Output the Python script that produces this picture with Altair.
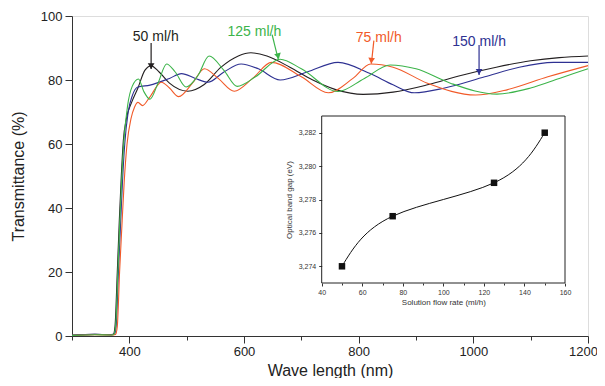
import altair as alt
import pandas as pd

# ---------------- main spectra ----------------
names = ["50 ml/h", "150 ml/h", "75 ml/h", "125 ml/h"]
colors = ["#231f20", "#2e3192", "#f15a29", "#3cb44a"]

black_wl = [300, 340, 365, 372, 375, 379, 382.5, 386, 389.5, 395, 404, 415, 427, 438, 452, 470, 502, 530, 560,
            590, 612, 640, 680, 720, 760, 808, 860, 920, 980, 1040, 1100, 1150, 1200]
black_t = [0.2, 0.5, 0.4, 0.5, 3, 20, 36, 50, 61, 68, 73, 77.5, 83, 84.4, 82.5, 79, 76.5, 78.5, 84,
           87.5, 88.5, 87.5, 84, 80, 77, 75.5, 76.2, 78.5, 81.5, 84, 86, 87, 87.5]

blue_wl = [300, 340, 366, 374, 377, 381, 385, 388, 392, 398, 405, 415, 436, 470, 491, 515, 537, 565, 595, 625,
           663, 710, 764, 820, 860, 897, 950, 1020, 1080, 1140, 1200]
blue_t = [0.3, 0.5, 0.4, 0.5, 3, 20, 36, 48, 60, 70, 75, 77.8, 78.4, 80.5, 82, 80.5, 79.3, 82.5, 85, 83.5,
          80, 82.5, 85.5, 82, 78.5, 76, 77.5, 81, 84, 85.5, 85.5]

orange_wl = [300, 340, 368, 376, 379, 383, 387.5, 391, 396, 403, 409, 415, 423, 435, 456, 470, 486, 510, 531,
             555, 583, 615, 648, 700, 747, 790, 821, 860, 920, 1004, 1060, 1130, 1200]
orange_t = [0.2, 0.4, 0.3, 0.5, 3, 20, 36, 48, 60, 68, 71.5, 73, 72, 74.5, 79.3, 77.5, 74.8, 79, 83.5,
            80.5, 76.5, 80.5, 85.5, 81, 76, 80.5, 85, 84, 79, 75.3, 77, 81, 84.5]

green_wl = [300, 340, 366, 373, 376, 380, 383.5, 387, 391, 397, 405, 416, 425, 436, 450, 465, 480, 499, 520,
            539, 565, 588, 620, 663, 700, 764, 810, 855, 900, 960, 1041, 1100, 1150, 1200]
green_t = [0.2, 0.4, 0.3, 0.5, 3, 20, 36, 50, 62, 72, 78, 80.3, 76.5, 74, 79, 85, 82.5, 77.8, 81.5,
           87.5, 83, 78, 81, 86.5, 83.5, 76.4, 80.5, 84.7, 83.5, 79, 75.6, 77.5, 80.5, 83.5]

series = [(names[0], black_wl, black_t), (names[1], blue_wl, blue_t),
          (names[2], orange_wl, orange_t), (names[3], green_wl, green_t)]
rows = []
for i, (nm, wl, tt) in enumerate(series):
    for w, v in zip(wl, tt):
        rows.append({"series": nm, "wl": w, "T": v, "ord": i})
spec_df = pd.DataFrame(rows)

# ---------------- annotations ----------------
ann_label = ["50 ml/h", "125 ml/h", "75 ml/h", "150 ml/h"]
ann_color = ["#231f20", "#3cb44a", "#f15a29", "#2e3192"]
ann_tx = [446, 618, 835, 1010]
ann_ty = [93.4, 95.1, 93.2, 91.9]
arr_x1 = [438, 649, 826.5, 1010]
arr_y1 = [91.6, 94.2, 92.3, 90.9]
arr_x2 = [438, 659.6, 822.2, 1010]
arr_y2 = [83.4, 86.5, 85.1, 81.6]
arr_ang = [0, 346, 6, 0]
ann_df = pd.DataFrame({"label": ann_label, "color": ann_color, "tx": ann_tx, "ty": ann_ty,
                       "x1": arr_x1, "y1": arr_y1, "x2": arr_x2, "y2": arr_y2, "ang": arr_ang})

# ---------------- inset data ----------------
flow = [50, 75, 125, 150]
gap = [3.274, 3.277, 3.279, 3.282]
inset_df = pd.DataFrame({"flow": flow, "gap": gap})
ix_dom = [40, 160]
iy_dom = [3.273, 3.283]
iy_ticks = [3.274, 3.276, 3.278, 3.280, 3.282]
frame_df = pd.DataFrame({"fx": [ix_dom[0]], "fx2": [ix_dom[1]], "fy": [iy_dom[0]], "fy2": [iy_dom[1]]})

FONT = "Liberation Sans"
XT = "Wave length (nm)"
YT = "Transmittance (%)"

xscale = alt.Scale(domain=[300, 1200], nice=False, zero=False)
yscale = alt.Scale(domain=[0, 100], nice=False, zero=False)

x_axis = alt.Axis(
    values=list(range(300, 1201, 100)),
    labelExpr="datum.value % 200 == 0 && datum.value > 300 ? format(datum.value, 'd') : ''",
    tickSize={"condition": {"test": "datum.value % 200 == 0", "value": 7}, "value": 4},
    labelOffset={"condition": {"test": "datum.value == 1200", "value": -5}, "value": 0},
    labelFontSize=13, labelFont=FONT, labelColor="#222", labelPadding=2, labelOverlap=False,
    titleFontSize=16, titleFont=FONT, titleFontWeight="normal", titleColor="#222", titlePadding=4,
    domainColor="#333", tickColor="#333", grid=False, orient="bottom", labelFlush=False,
)
y_axis = alt.Axis(
    values=list(range(0, 101, 5)),
    labelExpr="datum.value % 10 == 0 ? datum.label : ''",
    tickSize={"condition": {"test": "datum.value % 10 == 0", "value": 7}, "value": 4},
    labelFontSize=13, labelFont=FONT, labelColor="#222", labelPadding=3, labelOverlap=False,
    titleFontSize=16, titleFont=FONT, titleFontWeight="normal", titleColor="#222", titlePadding=14,
    domainColor="#333", tickColor="#333", grid=False, orient="left", labelFlush=False,
)

lines = alt.Chart(spec_df).mark_line(strokeWidth=1.1, interpolate="monotone").encode(
    x=alt.X("wl:Q", scale=xscale, axis=x_axis, title=XT),
    y=alt.Y("T:Q", scale=yscale, axis=y_axis, title=YT),
    color=alt.Color("series:N", scale=alt.Scale(domain=names, range=colors), legend=None),
    order=alt.Order("ord:Q"),
)

texts = alt.Chart(ann_df).mark_text(fontSize=14, font=FONT).encode(
    x=alt.X("tx:Q", title=XT), y=alt.Y("ty:Q", title=YT),
    text="label:N", color=alt.Color("color:N", scale=None),
)
rules = alt.Chart(ann_df).mark_rule(strokeWidth=1.2).encode(
    x=alt.X("x1:Q", title=XT), y=alt.Y("y1:Q", title=YT), x2="x2:Q", y2="y2:Q",
    color=alt.Color("color:N", scale=None),
)
heads = alt.Chart(ann_df).mark_point(shape="triangle-down", filled=True, size=45, opacity=1, yOffset=-3).encode(
    x=alt.X("x2:Q", title=XT), y=alt.Y("y2:Q", title=YT),
    angle=alt.Angle("ang:Q", scale=None),
    color=alt.Color("color:N", scale=None),
)

main = alt.layer(lines, rules, heads, texts)

# ---------------- inset ----------------
IXT = "Solution flow rate (ml/h)"
IYT = "Optical band gap (eV)"
ixscale = alt.Scale(domain=ix_dom, range=[249.7, 493], nice=False, zero=False)
iyscale = alt.Scale(domain=iy_dom, range=[267, 100], nice=False, zero=False)

ix_axis = alt.Axis(
    orient="bottom", offset=-53, values=list(range(40, 161, 10)),
    labelExpr="datum.value % 20 == 0 ? datum.label : ''",
    tickSize={"condition": {"test": "datum.value % 20 == 0", "value": 3}, "value": 2},
    labelFontSize=7, labelFont=FONT, labelColor="#333", labelPadding=2, labelOverlap=False,
    titleFontSize=8, titleFont=FONT, titleFontWeight="normal", titleColor="#333", titlePadding=3,
    domain=False, tickColor="#333", grid=False, labelFlush=False,
)
iy_axis = alt.Axis(
    orient="left", offset=-249.7, values=iy_ticks, format=".3f",
    labelExpr="'3,' + slice(datum.label, 2)",
    tickSize=3,
    labelFontSize=7, labelFont=FONT, labelColor="#333", labelPadding=3, labelOverlap=False,
    titleFontSize=8, titleFont=FONT, titleFontWeight="normal", titleColor="#333", titlePadding=5,
    domain=False, tickColor="#333", grid=False, labelFlush=False,
)

frame = alt.Chart(frame_df).mark_rect(fillOpacity=0, stroke="#222", strokeWidth=1).encode(
    x=alt.X("fx:Q", scale=ixscale, axis=ix_axis, title=IXT), x2="fx2:Q",
    y=alt.Y("fy:Q", scale=iyscale, axis=iy_axis, title=IYT), y2="fy2:Q",
)
iline = alt.Chart(inset_df).mark_line(color="#111", strokeWidth=1, interpolate="natural").encode(
    x=alt.X("flow:Q", title=IXT), y=alt.Y("gap:Q", title=IYT),
)
ipts = alt.Chart(inset_df).mark_square(color="#111", size=42, opacity=1).encode(
    x=alt.X("flow:Q", title=IXT), y=alt.Y("gap:Q", title=IYT),
)
inset = alt.layer(frame, iline, ipts)

chart = alt.layer(main, inset).resolve_scale(x="independent", y="independent").properties(
    width=516, height=320,
    autosize=alt.AutoSizeParams(type="none"),
    padding={"left": 64, "top": 8, "right": 9, "bottom": 42},
).configure_view(stroke="#333", strokeWidth=1).configure(background="white")

chart.save("out.html", embed_options={"renderer": "svg", "actions": False})
